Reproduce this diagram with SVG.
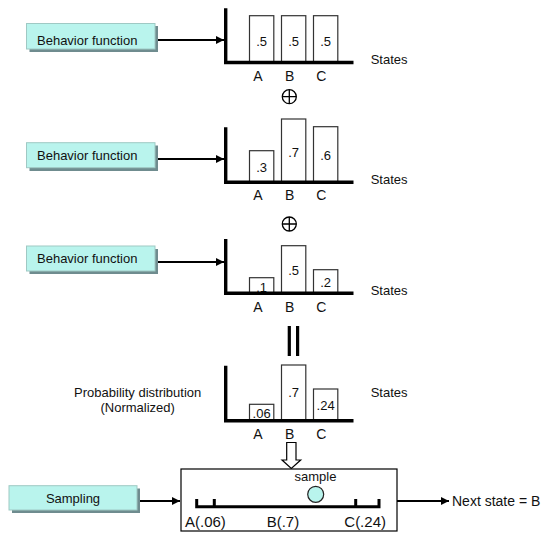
<svg xmlns="http://www.w3.org/2000/svg" width="545" height="535" viewBox="0 0 545 535">
<defs>
<style>
text{font-family:"Liberation Sans",Arial,sans-serif;fill:#111}
.lbl{font-size:13px}
.ax{font-size:14px;text-anchor:middle}
.val{font-size:13px;text-anchor:middle}
.box{fill:#b9f4ed;stroke:#9fc9c4;stroke-width:1}
.shadow{fill:#6f8c8f}
.bar{fill:#fff;stroke:#333;stroke-width:1.2}
.axis{stroke:#000;stroke-width:3.4;fill:none}
.conn{stroke:#000;stroke-width:2;fill:none}
</style>
<marker id="ah" viewBox="0 0 10 10" refX="10" refY="5" markerWidth="5" markerHeight="5" orient="auto" markerUnits="userSpaceOnUse">
<path d="M0,0 L10,5 L0,10 z" fill="#000"/>
</marker>
<marker id="ah2" viewBox="0 0 10 10" refX="10" refY="5" markerWidth="10" markerHeight="8" orient="auto" markerUnits="userSpaceOnUse">
<path d="M0,0 L10,5 L0,10 z" fill="#000"/>
</marker>
</defs>
<rect width="545" height="535" fill="#fff"/>

<g id="connectors">
<line class="conn" x1="155" y1="40" x2="224" y2="40" marker-end="url(#ah2)"/>
<line class="conn" x1="155" y1="159" x2="224" y2="159" marker-end="url(#ah2)"/>
<line class="conn" x1="155" y1="262" x2="224" y2="262" marker-end="url(#ah2)"/>
<line class="conn" x1="137" y1="501" x2="180" y2="501" marker-end="url(#ah2)"/>
<line class="conn" x1="397" y1="501" x2="449" y2="501" marker-end="url(#ah2)"/>
<path d="M286.7,442.5 H296 V460 H300.7 L291.3,468.5 L282,460 H286.7 Z" fill="#fff" stroke="#000" stroke-width="1.2"/>
</g>

<g id="behavior1">
<rect class="shadow" x="29.5" y="26" width="128.5" height="26"/>
<rect class="box" x="26.5" y="23.5" width="128.5" height="25.5"/>
<text class="lbl" x="37" y="44.5">Behavior function</text>
</g>
<g id="behavior2">
<rect class="shadow" x="29.5" y="145.5" width="128.5" height="25.5"/>
<rect class="box" x="26.5" y="142.7" width="128.5" height="25"/>
<text class="lbl" x="37" y="159.5">Behavior function</text>
</g>
<g id="behavior3">
<rect class="shadow" x="29.5" y="249" width="128.5" height="25"/>
<rect class="box" x="26.5" y="246" width="128.5" height="25"/>
<text class="lbl" x="37" y="262.8">Behavior function</text>
</g>

<g id="chart1">
<rect class="bar" x="249.5" y="15.7" width="24.3" height="46"/>
<rect class="bar" x="281.5" y="15.7" width="24.3" height="46"/>
<rect class="bar" x="313.5" y="15.7" width="24.3" height="46"/>
<path class="axis" d="M225.7,8.3 V62.5 H353.5"/>
<text class="val" x="261.6" y="45.7">.5</text>
<text class="val" x="293.6" y="45.7">.5</text>
<text class="val" x="325.6" y="45.7">.5</text>
<text class="ax" x="258" y="81">A</text>
<text class="ax" x="289.7" y="81">B</text>
<text class="ax" x="321.3" y="81">C</text>
<text class="lbl" x="370.7" y="64">States</text>
</g>
<g id="plus1">
<circle cx="289.3" cy="96.7" r="7" fill="none" stroke="#000" stroke-width="1.3"/>
<path d="M282.3,96.7 H296.3 M289.3,89.7 V103.7" stroke="#000" stroke-width="1.3"/>
</g>

<g id="chart2">
<rect class="bar" x="249.5" y="150.7" width="24.3" height="31"/>
<rect class="bar" x="281.5" y="119" width="24.3" height="62.7"/>
<rect class="bar" x="313.5" y="126.7" width="24.3" height="55"/>
<path class="axis" d="M225.7,127.3 V182.3 H353.5"/>
<text class="val" x="261.6" y="172.3">.3</text>
<text class="val" x="293.6" y="156.7">.7</text>
<text class="val" x="325.6" y="160">.6</text>
<text class="ax" x="258" y="200">A</text>
<text class="ax" x="289.7" y="200">B</text>
<text class="ax" x="321.3" y="200">C</text>
<text class="lbl" x="370.7" y="184">States</text>
</g>
<g id="plus2">
<circle cx="289.3" cy="224" r="7" fill="none" stroke="#000" stroke-width="1.3"/>
<path d="M282.3,224 H296.3 M289.3,217 V231" stroke="#000" stroke-width="1.3"/>
</g>

<g id="chart3">
<rect class="bar" x="249.5" y="277.7" width="24.3" height="15"/>
<rect class="bar" x="281.5" y="245.7" width="24.3" height="47"/>
<rect class="bar" x="313.5" y="269.7" width="24.3" height="23"/>
<text class="val" x="261.6" y="292">.1</text>
<path class="axis" d="M225.7,239 V293.3 H353.5"/>
<text class="val" x="293.6" y="275">.5</text>
<text class="val" x="325.6" y="286.7">.2</text>
<text class="ax" x="258" y="311.7">A</text>
<text class="ax" x="289.7" y="311.7">B</text>
<text class="ax" x="321.3" y="311.7">C</text>
<text class="lbl" x="370.7" y="295">States</text>
</g>
<g id="equals">
<rect x="287.7" y="326" width="3.2" height="30" fill="#000"/>
<rect x="296" y="326" width="3.2" height="30" fill="#000"/>
</g>

<g id="chart4">
<rect class="bar" x="249.5" y="404.3" width="24.3" height="16"/>
<rect class="bar" x="281.5" y="365" width="24.3" height="55.5"/>
<rect class="bar" x="313.5" y="389" width="24.3" height="31.5"/>
<text class="val" x="261.6" y="418">.06</text>
<path class="axis" d="M225.7,365.7 V420.7 H353.5"/>
<text class="val" x="293.6" y="397">.7</text>
<text class="val" x="325.6" y="410">.24</text>
<text class="ax" x="258" y="439">A</text>
<text class="ax" x="289.7" y="439">B</text>
<text class="ax" x="321.3" y="439">C</text>
<text class="lbl" x="370.7" y="397">States</text>
<text class="lbl" x="137.7" y="396.7" text-anchor="middle">Probability distribution</text>
<text class="lbl" x="137.7" y="411.7" text-anchor="middle">(Normalized)</text>
</g>

<g id="sampling">
<rect class="shadow" x="12" y="488.5" width="128" height="24.5"/>
<rect class="box" x="9" y="485.7" width="128" height="24.3"/>
<text class="lbl" x="73" y="503" text-anchor="middle">Sampling</text>
</g>

<g id="sampler">
<rect x="181" y="469" width="216" height="62" fill="#fff" stroke="#000" stroke-width="1.2"/>
<text class="lbl" x="315.5" y="480.7" text-anchor="middle">sample</text>
<circle cx="315.7" cy="494.3" r="8" fill="#b9f4ed" stroke="#222" stroke-width="1.2"/>
<path d="M196.7,499 V506.7 H379 V499 M214.3,499 V506.7 M355.7,499 V506.7" fill="none" stroke="#000" stroke-width="3"/>
<text x="185" y="527" style="font-size:15px">A(.06)</text>
<text x="266.7" y="527" style="font-size:15px">B(.7)</text>
<text x="344.3" y="527" style="font-size:15px">C(.24)</text>
</g>

<g id="next">
<text x="452" y="506" style="font-size:14px">Next state = B</text>
</g>
</svg>
